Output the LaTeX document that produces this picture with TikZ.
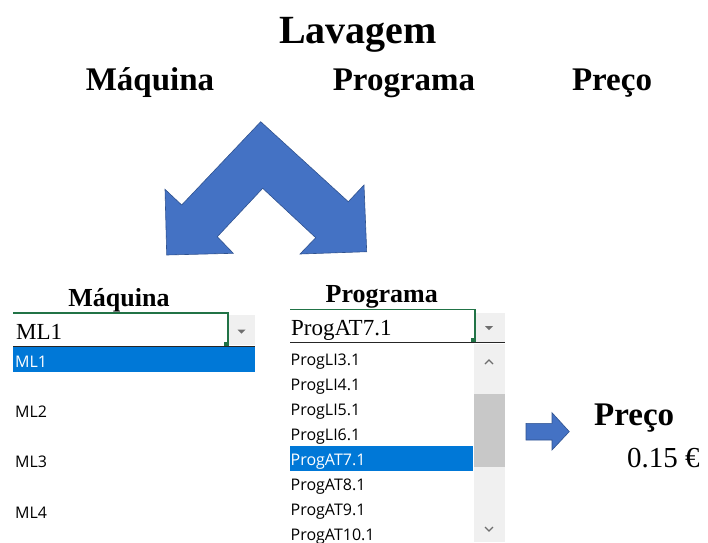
\documentclass[tikz,border=0pt]{standalone}
\usepackage{fontspec}
\setmainfont{Liberation Serif}
\newfontfamily\uifont{Open Sans}
\usetikzlibrary{calc}
\definecolor{officeBlue}{HTML}{4472C4}
\definecolor{officeEdge}{HTML}{2F528F}
\definecolor{selBlue}{HTML}{0078D7}
\definecolor{cellGreen}{HTML}{217346}
\definecolor{btnGray}{HTML}{F0F0F0}
\definecolor{thumbGray}{HTML}{C8C8C8}
\definecolor{glyphGray}{HTML}{6E6E6E}
\tikzstyle{titlenode} = [inner sep=0, anchor=base, font=\bfseries\fontsize{40}{48}\selectfont]
\tikzstyle{headnode} = [inner sep=0, anchor=base, font=\bfseries\fontsize{33}{40}\selectfont]
\tikzstyle{labelnode} = [inner sep=0, anchor=base, font=\bfseries\fontsize{26}{31}\selectfont]
\tikzstyle{combonode} = [inner sep=0, anchor=base west, font=\fontsize{23}{28}\selectfont]
\tikzstyle{itemnode} = [inner sep=0, anchor=base west, font=\uifont\fontsize{16}{19}\selectfont]
\tikzstyle{blockarrow} = [fill=officeBlue, draw=officeEdge, line width=0.6pt, line join=miter]
\tikzstyle{cellframe} = [draw=cellGreen, line width=1.6pt]
\tikzstyle{cellbase} = [draw=black!85, line width=1pt]

\begin{document}
\begin{tikzpicture}[x=1pt,y=-1pt]
\useasboundingbox (0,0) rectangle (708,542);
\node[titlenode] (title) at (358,43) {Lavagem};
\node[headnode] (head_maq) at (150,90) {Máquina};
\node[headnode] (head_prog) at ($(head_maq.base)+(254,0)$) {Programa};
\node[headnode] (head_preco) at ($(head_maq.base)+(462,0)$) {Preço};

\draw[blockarrow] (260.7,121.7) -- (348.3,201.7) -- (364,185) -- (366.7,251.7) -- (300,254) -- (315.7,237.7) -- (262.7,188.3) -- (217.3,236.7) -- (233.3,253.3) -- (166.7,255) -- (165,189.3) -- (181.7,205) -- cycle;

% machine list
\node[labelnode] (lbl_maq) at (119,306) {Máquina};
\fill[btnGray] (228,315) rectangle (255,345);
\draw[cellframe] (13,312.7) -- (227.7,312.7) -- (227.7,345);
\fill[cellGreen] (223.5,341.5) rectangle (229,346);
\draw[cellbase] (13,346) -- (255,346);
\fill[glyphGray] (237.5,329.5) -- (245.5,329.5) -- (241.5,333.5) -- cycle;
\node[combonode] (maq_value) at (16,339) {ML1};
\fill[selBlue] (13,346.7) rectangle (255,371.7);
\node[itemnode, text=white] (maq_ml1) at (15,367.3) {ML1};
\node[itemnode] (maq_ml2) at ($(maq_ml1.base west)+(0,50.3)$) {ML2};
\node[itemnode] (maq_ml3) at ($(maq_ml2.base west)+(0,50.3)$) {ML3};
\node[itemnode] (maq_ml4) at ($(maq_ml3.base west)+(0,50.3)$) {ML4};

% program list
\node[labelnode] (lbl_prog) at (381.7,302.7) {Programa};
\fill[btnGray] (475,313) rectangle (505,342);
\draw[cellframe] (290,309.3) -- (475,309.3) -- (475,342);
\fill[cellGreen] (470.8,338.3) rectangle (476.3,342.5);
\draw[cellbase] (290,342.7) -- (505,342.7);
\fill[glyphGray] (485,326) -- (493,326) -- (489,330) -- cycle;
\node[combonode] (prog_value) at (291,335) {ProgAT7.1};
\fill[btnGray] (474,343.5) rectangle (505,542);
\fill[thumbGray] (474,394) rectangle (505,467);
\draw[glyphGray, line width=1.3pt] (485,364) -- (489,360) -- (493,364);
\draw[glyphGray, line width=1.3pt] (485,527) -- (489,531) -- (493,527);
\fill[selBlue] (290,445.7) rectangle (473,470.7);
\node[itemnode] (prog_li3) at (290.5,365.5) {ProgLI3.1};
\node[itemnode] (prog_li4) at ($(prog_li3.base west)+(0,25)$) {ProgLI4.1};
\node[itemnode] (prog_li5) at ($(prog_li4.base west)+(0,25)$) {ProgLI5.1};
\node[itemnode] (prog_li6) at ($(prog_li5.base west)+(0,25)$) {ProgLI6.1};
\node[itemnode, text=white] (prog_at7) at ($(prog_li6.base west)+(0,25)$) {ProgAT7.1};
\node[itemnode] (prog_at8) at ($(prog_at7.base west)+(0,25)$) {ProgAT8.1};
\node[itemnode] (prog_at9) at ($(prog_at8.base west)+(0,25)$) {ProgAT9.1};
\node[itemnode] (prog_at10) at ($(prog_at9.base west)+(0,25)$) {ProgAT10.1};

% price
\draw[blockarrow] (526,423.3) -- (552,423.3) -- (552,412.7) -- (569.3,431.6) -- (552,450) -- (552,440) -- (526,440) -- cycle;
\node[headnode, anchor=base west] (res_preco) at (594,425) {Preço};
\node[inner sep=0, anchor=base west, font=\fontsize{29}{34}\selectfont] (res_valor) at (627,467) {0.15 €};
\end{tikzpicture}
\end{document}
